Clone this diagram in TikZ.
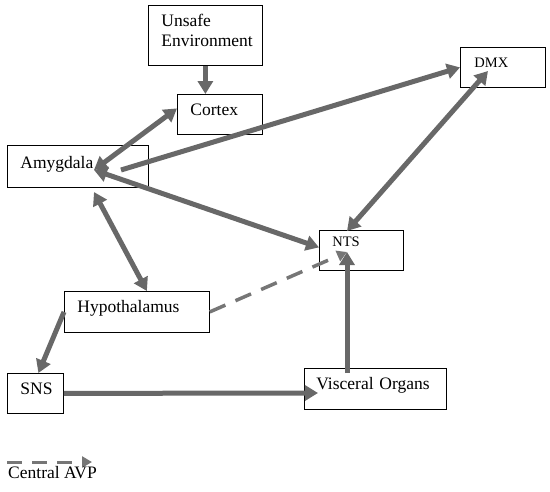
\documentclass[tikz,border=0pt]{standalone}
\usepackage{fontspec}
\setmainfont{Liberation Serif}
\usetikzlibrary{arrows.meta}

\definecolor{linkgray}{RGB}{104,104,104}
\definecolor{avpgray}{RGB}{118,118,118}

\tikzset{
	region/.style={draw, line width=0.8pt, anchor=north west, inner xsep=13pt, inner ysep=0pt,
		align=left, text depth=10pt, font=\fontsize{17.5}{20}\selectfont},
	smallregion/.style={region, font=\fontsize{14.5}{17}\selectfont},
	link/.style={draw=linkgray, line width=5pt},
	avp/.style={draw=avpgray, line width=3.5pt, dash pattern=on 17pt off 11pt,
		-{Triangle[width=11pt,length=10pt]}}
}

\begin{document}
\begin{tikzpicture}[x=1pt, y=-1pt, >={Triangle[width=15pt,length=13pt]}]
\useasboundingbox (0,0) rectangle (550,491);

\node[region, text width=88pt, minimum height=60pt, text depth=31pt] (unsafe) at (148,5) {Unsafe\\Environment};
\node[region, text width=59pt, minimum height=40pt] (cortex) at (177,94) {Cortex};
\node[region, text width=115pt, minimum height=42pt, text depth=8pt] (amygdala) at (7,145) {Amygdala};
\node[smallregion, inner xsep=14pt, text width=57pt, minimum height=40pt] (dmx) at (460,47) {DMX};
\node[smallregion, text width=58pt, minimum height=40pt, text depth=18pt] (nts) at (319,230) {NTS};
\node[region, text width=119pt, minimum height=41pt] (hypothalamus) at (64,291) {Hypothalamus};
\node[region, text width=30pt, minimum height=40pt] (sns) at (7,373) {SNS};
\node[region, inner xsep=12pt, text width=118pt, minimum height=41pt] (visceral) at (304,368) {Visceral Organs};

% points inside the boxes
\coordinate (amyHub) at (94,170);
\coordinate (amyOut) at (121,170);
\coordinate (amyLow) at (94,192);
\coordinate (dmxIn) at (488,71);
\coordinate (ntsTop) at (347,231);
\coordinate (ntsIn) at (347,252);
\coordinate (visIn) at (318,393);
\coordinate (visUp) at (347,373);

\draw[link,->] (unsafe.south) -- (unsafe.south |- cortex.north);
\draw[link,<->] ([yshift=6pt]cortex.west) -- (amyHub);
\draw[link,->] (amyOut) -- (dmx.west);
\draw[link,<->] (dmxIn) -- (ntsTop);
\draw[link,<->] (amyHub) -- ([yshift=3pt]nts.west);
\draw[link,<->] (amyLow) -- ([xshift=10pt]hypothalamus.north);
\draw[link,->] (hypothalamus.west) -- ([xshift=3pt]sns.north);
\draw[link,->] (sns.east) -- (visIn);
\draw[link,->] (visUp) -- (ntsIn);
\draw[avp] (hypothalamus.east) -- (ntsIn);

% key
\coordinate (keyStart) at (7,462);
\coordinate (keyEnd) at (92,462);
\draw[avp, line width=3pt, dash pattern=on 15pt off 10pt] (keyStart) -- (keyEnd);
\node[anchor=base west, inner sep=0pt, font=\fontsize{17.5}{20}\selectfont] (keyText) at (8,478) {Central AVP};
\end{tikzpicture}
\end{document}
